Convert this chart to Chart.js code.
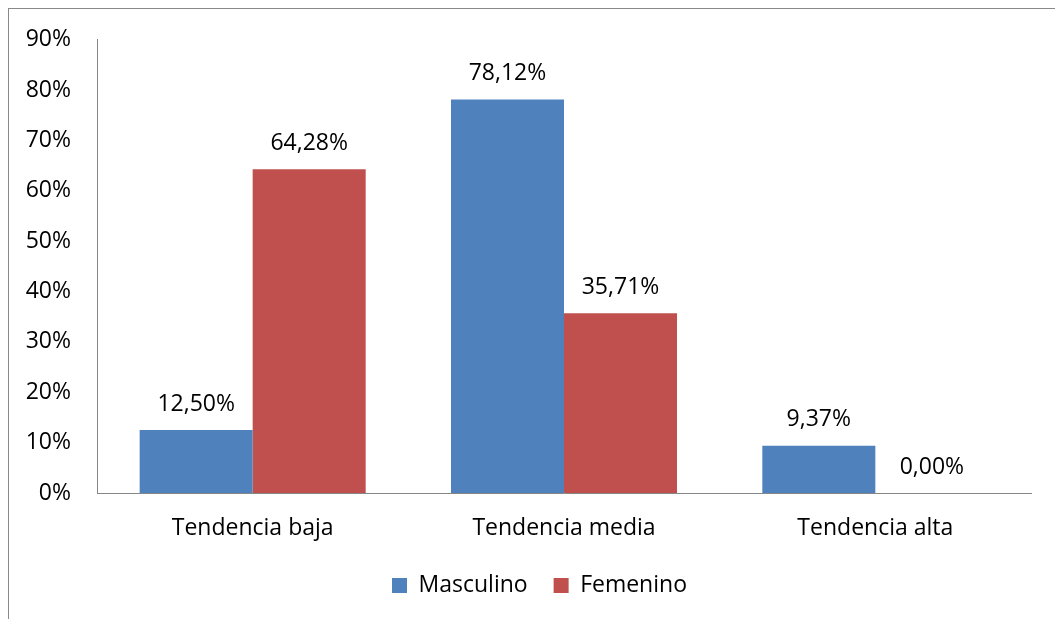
<!DOCTYPE html>
<html>
<head>
<meta charset="utf-8">
<script src="https://cdn.jsdelivr.net/npm/chart.js@4/dist/chart.umd.min.js"></script>
<style>
  html, body { margin: 0; padding: 0; background: #fff; overflow: hidden; }
  #page { position: relative; width: 1055px; height: 619px; overflow: hidden; }
  #frame { position: absolute; left: 8px; top: 8px; width: 1300px; height: 900px;
           border-left: 1px solid #898989; border-top: 1px solid #898989; }
  #wrap { position: absolute; left: 0; top: 0; width: 1055px; height: 619px; }
</style>
</head>
<body>
<div id="page">
  <div id="frame"></div>
  <div id="wrap"><canvas id="grafico"></canvas></div>
</div>
<script>
const categorias = ['Tendencia baja', 'Tendencia media', 'Tendencia alta'];
const masculino = [12.50, 78.12, 9.37];
const femenino = [64.28, 35.71, 0.00];
const ticksY = [0, 10, 20, 30, 40, 50, 60, 70, 80, 90];

const fuente = "'Open Sans', sans-serif";

// etiquetas de valor encima de cada barra
const etiquetas = {
  id: 'etiquetas',
  afterDatasetsDraw(chart) {
    const ctx = chart.ctx;
    ctx.save();
    ctx.font = '23px ' + fuente;
    ctx.fillStyle = '#000';
    ctx.textAlign = 'center';
    ctx.textBaseline = 'middle';
    chart.data.datasets.forEach((ds, i) => {
      chart.getDatasetMeta(i).data.forEach((bar, j) => {
        const txt = ds.data[j].toFixed(2).replace('.', ',') + '%';
        ctx.fillText(txt, bar.x, bar.y - 26);
      });
    });
    ctx.restore();
  }
};

// la leyenda del original queda algo a la derecha del centro
const moverLeyenda = {
  id: 'moverLeyenda',
  afterLayout(chart) {
    chart.legend.left += 24;
    chart.legend.right += 24;
  }
};

new Chart(document.getElementById('grafico'), {
  type: 'bar',
  data: {
    labels: categorias,
    datasets: [
      { label: 'Masculino', data: masculino, backgroundColor: '#4F81BD' },
      { label: 'Femenino', data: femenino, backgroundColor: '#C0504D' }
    ]
  },
  options: {
    responsive: true,
    maintainAspectRatio: false,
    animation: false,
    categoryPercentage: 0.726,
    barPercentage: 1,
    layout: { padding: { left: 0, right: 24, top: 38, bottom: 12 } },
    plugins: {
      tooltip: { enabled: false },
      legend: {
        position: 'bottom',
        labels: {
          boxWidth: 15,
          boxHeight: 15,
          padding: 26,
          color: '#000',
          font: { family: fuente, size: 23 }
        }
      }
    },
    scales: {
      x: {
        grid: { display: false, drawTicks: false },
        border: { color: '#868686', width: 1 },
        ticks: { color: '#000', padding: 22, font: { family: fuente, size: 23 } },
        afterFit(scale) { scale.height = 55; }
      },
      y: {
        min: 0,
        max: 90,
        afterBuildTicks(scale) { scale.ticks = ticksY.map(v => ({ value: v })); },
        grid: { display: false, drawTicks: false },
        border: { color: '#868686', width: 1 },
        ticks: {
          color: '#000',
          padding: 26,
          font: { family: fuente, size: 23 },
          callback: v => v + '%'
        },
        afterFit(scale) { scale.width = 97; }
      }
    }
  },
  plugins: [etiquetas, moverLeyenda]
});
</script>
</body>
</html>
